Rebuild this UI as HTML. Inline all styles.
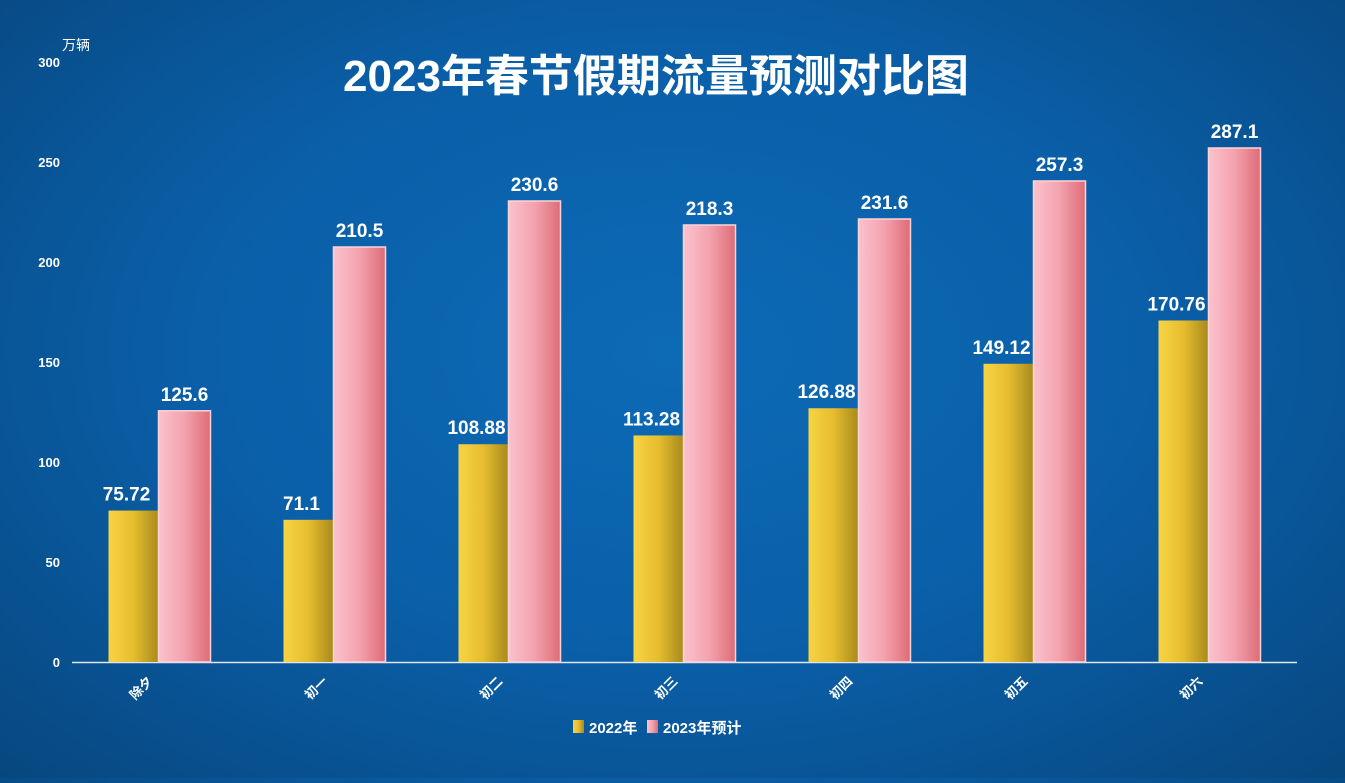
<!DOCTYPE html>
<html><head><meta charset="utf-8">
<style>
html,body{margin:0;padding:0;}
body{width:1345px;height:778px;overflow:hidden;background:radial-gradient(ellipse at 50% 45%,#0d6ab5 0%,#0a5fa8 50%,#07477f 100%);font-family:"Liberation Sans","Noto Sans CJK SC",sans-serif;}
svg text{font-family:"Liberation Sans","Noto Sans CJK SC",sans-serif;}
</style></head>
<body>
<svg id="chart" width="1345" height="778" xmlns="http://www.w3.org/2000/svg">
<defs>
<linearGradient id="gold" x1="0" x2="1" y1="0" y2="0"><stop offset="0" stop-color="#f7d444"/><stop offset="0.5" stop-color="#e6bd2f"/><stop offset="1" stop-color="#a88a1c"/></linearGradient>
<linearGradient id="pink" x1="0" x2="1" y1="0" y2="0"><stop offset="0" stop-color="#fbc2cc"/><stop offset="0.5" stop-color="#f3a2ae"/><stop offset="1" stop-color="#dd6c76"/></linearGradient>
</defs>
<text x="656" y="91" text-anchor="middle" font-size="44" font-weight="bold" fill="#fff">2023年春节假期流量预测对比图</text>
<text x="62" y="50" font-size="14" fill="#fff">万辆</text>
<g id="axes"></g><g id="bars"></g>
<g>
<rect x="573" y="720" width="11" height="13" fill="url(#gold)"/>
<text x="589" y="733" font-size="15" font-weight="bold" fill="#fff">2022年</text>
<rect x="647" y="720" width="11" height="13" fill="url(#pink)"/>
<text x="663" y="733" font-size="15" font-weight="bold" fill="#fff">2023年预计</text>
</g>
</svg>
<script>
const categories=["除夕","初一","初二","初三","初四","初五","初六"];
const values2022=[75.72,71.1,108.88,113.28,126.88,149.12,170.76];
const values2023=[125.6,207.5,230.5,218.5,221.5,240.5,257];
const labels2022=["75.72","71.1","108.88","113.28","126.88","149.12","170.76"];
const labels2023=["125.6","210.5","230.6","218.3","231.6","257.3","287.1"];
const yTicks=[0,50,100,150,200,250,300];

const NS="http://www.w3.org/2000/svg";
const x0=72,x1=1297,y0=662,y1=62,yMax=300;
const band=(x1-x0)/categories.length;
const y=v=>y0-(v/yMax)*(y0-y1);
const xc=i=>x0+band*(i+0.5);
function mk(t,a,p){const e=document.createElementNS(NS,t);for(const k in a)e.setAttribute(k,a[k]);p.appendChild(e);return e;}
const axes=document.getElementById('axes'),bars=document.getElementById('bars');
yTicks.forEach(t=>{const e=mk('text',{x:60,y:y(t)+5,'text-anchor':'end','font-size':13,'font-weight':'bold',fill:'#fff'},axes);


e.textContent=t;});
const ax=mk('line',{x1:x0,x2:x1,y1:y0+0.5,y2:y0+0.5,stroke:'#dfe8f2','stroke-width':1.5},axes);


categories.forEach((c,i)=>{
 const cx=xc(i),w=50;
 const g=mk('rect',{x:cx-51,y:y(values2022[i]),width:w,height:y0-y(values2022[i]),fill:'url(#gold)'},bars);
 
 
 const p=mk('rect',{x:cx-1,y:y(values2023[i]),width:w+2,height:y0-y(values2023[i]),fill:'url(#pink)',stroke:'#fcd3da','stroke-width':1.5},bars);
 
 
 const l1=mk('text',{x:cx-33,y:y(values2022[i])-10,'text-anchor':'middle','font-size':19,'font-weight':'bold',fill:'#fff'},bars);
 
 
 l1.textContent=labels2022[i];
 const l2=mk('text',{x:cx+25,y:y(values2023[i])-10,'text-anchor':'middle','font-size':19,'font-weight':'bold',fill:'#fff'},bars);
 
 
 l2.textContent=labels2023[i];
 const xl=mk('text',{x:cx-6,y:682,'text-anchor':'end','font-size':13,'font-weight':'bold',fill:'#fff',transform:`rotate(-45 ${cx-6} 682)`},axes);
 
 
 xl.textContent=c;
});
</script>
</body></html>
